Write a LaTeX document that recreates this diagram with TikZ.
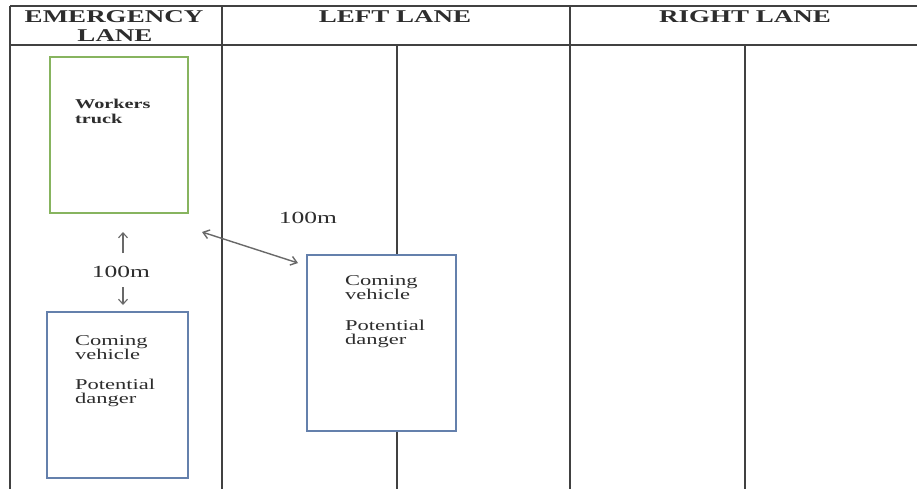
\documentclass[tikz,border=0pt]{standalone}
\usepackage{fontspec}
\usepackage{graphicx}
\setmainfont{Liberation Serif}
\usetikzlibrary{arrows.meta}
\definecolor{gridc}{RGB}{65,65,65}
\definecolor{truckg}{RGB}{135,180,95}
\definecolor{vehb}{RGB}{100,128,172}
\definecolor{arrg}{RGB}{105,105,105}
\definecolor{txtc}{RGB}{45,45,45}
\newcommand{\wide}[1]{\scalebox{1.5}[1]{#1}}
\begin{document}
\begin{tikzpicture}[x=1pt,y=-1pt,
  gridline/.style={draw=gridc,line width=2.6pt},
  laneline/.style={draw=gridc,line width=2.4pt},
  truckbox/.style={draw=truckg,line width=1.6pt,fill=white,inner sep=0pt,outer sep=0pt,anchor=north west},
  vehbox/.style={draw=vehb,line width=1.6pt,fill=white,inner sep=0pt,outer sep=0pt,anchor=north west},
  head/.style={text=txtc,inner sep=0pt,anchor=base,font=\fontsize{18}{20}\selectfont\bfseries},
  boxtxt/.style={text=txtc,inner sep=0pt,anchor=base west,font=\fontsize{15}{16}\selectfont},
  trucktxt/.style={text=txtc,inner sep=0pt,anchor=base west,font=\fontsize{13.5}{15}\selectfont\bfseries},
  dist/.style={text=txtc,inner sep=0pt,anchor=base,font=\fontsize{17}{18}\selectfont},
  distarrow/.style={draw=arrg,line width=1.1pt,-{Straight Barb[length=5pt,width=9pt]}},
  diagarrow/.style={draw=arrg,line width=1.4pt,{Straight Barb[length=6pt,width=9pt]}-{Straight Barb[length=6pt,width=9pt]}}
]
\useasboundingbox (0,0) rectangle (917,488);
\fill[white] (0,0) rectangle (917,488);

% table grid
\coordinate (tl) at (10,6);
\coordinate (tr) at (917,6);
\coordinate (hl) at (10,45);
\coordinate (hr) at (917,45);
\coordinate (bl) at (10,490);
\coordinate (c1t) at (222,6);
\coordinate (c1b) at (222,490);
\coordinate (c2t) at (570,6);
\coordinate (c2b) at (570,490);
\coordinate (l1t) at (397,45);
\coordinate (l1b) at (397,490);
\coordinate (l2t) at (745,45);
\coordinate (l2b) at (745,490);
\draw[laneline] (l1t) -- (l1b);
\draw[laneline] (l2t) -- (l2b);
\draw[gridline] (tl) -- (tr);
\draw[gridline] (hl) -- (hr);
\draw[gridline] (tl) -- (bl);
\draw[gridline] (c1t) -- (c1b);
\draw[gridline] (c2t) -- (c2b);

% headers
\node[head] (hEm) at (114,22) {\wide{EMERGENCY}};
\node[head] (hEl) at (115,41) {\wide{LANE}};
\node[head] (hL) at (395,22) {\wide{LEFT LANE}};
\node[head] (hR) at (745,22) {\wide{RIGHT LANE}};

% boxes
\node[truckbox,minimum width=138pt,minimum height=156pt] (truck) at (50,57) {};
\node[vehbox,minimum width=141pt,minimum height=166pt] (veh1) at (47,312) {};
\node[vehbox,minimum width=149pt,minimum height=176pt] (veh2) at (307,255) {};

% box texts
\node[trucktxt] (tw) at (75,108) {\wide{Workers}};
\node[trucktxt] (tt) at (75,123) {\wide{truck}};

\node[boxtxt] (v1a) at (75,345) {\wide{Coming}};
\node[boxtxt] (v1b) at (75,359) {\wide{vehicle}};
\node[boxtxt] (v1c) at (75,389) {\wide{Potential}};
\node[boxtxt] (v1d) at (75,403) {\wide{danger}};

\node[boxtxt] (v2a) at (345,285) {\wide{Coming}};
\node[boxtxt] (v2b) at (345,299) {\wide{vehicle}};
\node[boxtxt] (v2c) at (345,330) {\wide{Potential}};
\node[boxtxt] (v2d) at (345,344) {\wide{danger}};

% distances
\node[dist] (d1) at (121,277) {\wide{100m}};
\node[dist] (d2) at (308,223) {\wide{100m}};

\coordinate (ua) at (123,253);
\coordinate (ub) at (123,232);
\coordinate (da) at (123,287);
\coordinate (db) at (123,305);
\draw[distarrow] (ua) -- (ub);
\draw[distarrow] (da) -- (db);

\coordinate (ga) at (202,232);
\coordinate (gb) at (298,263);
\draw[diagarrow] (ga) -- (gb);
\end{tikzpicture}
\end{document}
